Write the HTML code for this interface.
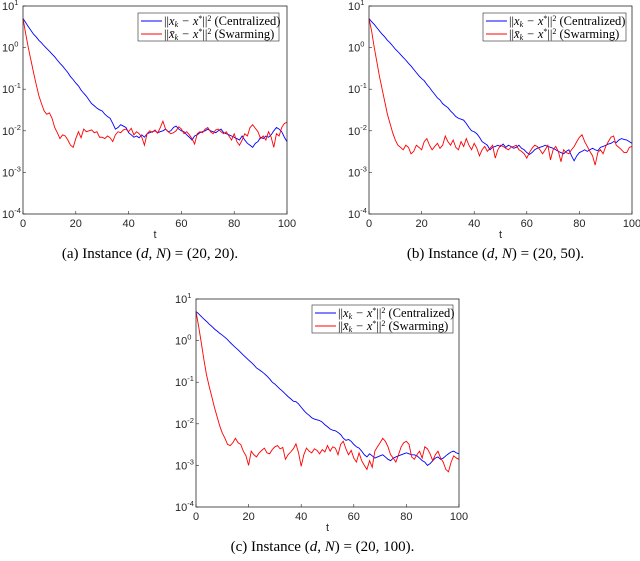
<!DOCTYPE html>
<html><head><meta charset="utf-8"><style>
body{margin:0;background:#fff;width:640px;height:561px;overflow:hidden}
svg{display:block}
.tk{font-family:"Liberation Sans",sans-serif;font-size:11px;fill:#262626}
.cap{font-family:"Liberation Serif",serif;font-size:15px;fill:#000}
.lg{font-family:"Liberation Serif",serif;font-size:12.5px;fill:#000}
</style></head><body>
<svg id="fig" width="640" height="561" viewBox="0 0 640 561"></svg>
<script>
const tTicks=[0,20,40,60,80,100];
const yExps=[1,0,-1,-2,-3,-4];
const blueA=[5,4,3.2,2.6,2.1,1.8,1.5,1.3,1.1,0.95,0.82,0.7,0.6,0.5,0.42,0.36,0.3,0.25,0.2,0.17,0.14,0.12,0.095,0.08,0.068,0.055,0.045,0.04,0.035,0.032,0.03,0.025,0.022,0.02,0.015,0.011,0.012,0.014,0.013,0.012,0.009,0.008,0.007,0.0075,0.0068,0.008,0.007,0.0085,0.009,0.0095,0.01,0.009,0.0095,0.01,0.011,0.0095,0.01,0.012,0.013,0.011,0.01,0.0095,0.008,0.007,0.006,0.0075,0.008,0.009,0.0095,0.01,0.011,0.01,0.0095,0.009,0.01,0.011,0.009,0.0085,0.008,0.0075,0.007,0.0065,0.006,0.0075,0.006,0.005,0.0045,0.004,0.005,0.0055,0.007,0.0065,0.0075,0.007,0.008,0.01,0.012,0.011,0.0095,0.007,0.0055];
const redA=[5,2.2,1.0,0.5,0.25,0.13,0.07,0.045,0.03,0.025,0.027,0.02,0.012,0.009,0.0065,0.008,0.0075,0.006,0.0045,0.004,0.0065,0.0095,0.0068,0.011,0.0095,0.01,0.0105,0.009,0.0095,0.007,0.007,0.0065,0.0075,0.0068,0.0055,0.008,0.0095,0.009,0.0105,0.011,0.0095,0.0115,0.008,0.0095,0.0085,0.007,0.0045,0.0085,0.01,0.0092,0.0105,0.0088,0.012,0.017,0.011,0.0095,0.0085,0.009,0.01,0.0125,0.011,0.0085,0.0095,0.008,0.0065,0.0048,0.0085,0.0095,0.009,0.011,0.012,0.0095,0.0085,0.0105,0.011,0.0095,0.0085,0.0095,0.0075,0.006,0.0085,0.0055,0.0045,0.006,0.0085,0.0075,0.012,0.014,0.0115,0.0095,0.0065,0.0075,0.006,0.0095,0.007,0.004,0.0085,0.0075,0.012,0.015,0.016];
const blueB=[5,4.2,3.6,3.0,2.5,2.1,1.8,1.5,1.3,1.1,0.92,0.8,0.68,0.58,0.5,0.42,0.36,0.3,0.25,0.21,0.18,0.16,0.13,0.11,0.09,0.075,0.062,0.055,0.045,0.04,0.036,0.03,0.026,0.022,0.02,0.019,0.018,0.015,0.012,0.01,0.0095,0.0085,0.007,0.0055,0.005,0.0045,0.0035,0.004,0.0042,0.0045,0.0042,0.0048,0.004,0.0045,0.0042,0.0038,0.004,0.0045,0.0038,0.0035,0.003,0.0027,0.003,0.0035,0.0038,0.004,0.0042,0.0045,0.0042,0.004,0.0038,0.0035,0.0032,0.003,0.0028,0.0032,0.0035,0.0025,0.0019,0.0025,0.003,0.0032,0.0035,0.0032,0.0035,0.0038,0.0035,0.0033,0.004,0.0042,0.0045,0.0048,0.005,0.0055,0.0052,0.006,0.0065,0.0062,0.006,0.0055,0.005];
const redB=[5,2.5,1.0,0.45,0.2,0.1,0.05,0.025,0.015,0.009,0.006,0.0045,0.004,0.0035,0.0045,0.004,0.0028,0.0032,0.0045,0.004,0.0035,0.0055,0.0065,0.0045,0.0035,0.0042,0.005,0.0038,0.0045,0.0075,0.0055,0.0045,0.006,0.004,0.0035,0.0055,0.0042,0.0065,0.0045,0.0035,0.005,0.0038,0.0025,0.0035,0.0042,0.0032,0.0038,0.0045,0.0022,0.0035,0.0045,0.0042,0.0038,0.0035,0.004,0.0042,0.0045,0.0035,0.0032,0.0028,0.0022,0.003,0.0038,0.0045,0.0042,0.0035,0.0028,0.0035,0.0045,0.002,0.0035,0.0042,0.0032,0.0018,0.0035,0.003,0.0028,0.0035,0.0042,0.0055,0.007,0.008,0.0055,0.0042,0.0032,0.0025,0.0015,0.003,0.0035,0.0028,0.0042,0.0055,0.007,0.0075,0.0045,0.004,0.0035,0.003,0.003,0.004,0.0042];
const blueC=[5,4.4,3.8,3.3,2.9,2.5,2.2,1.9,1.7,1.5,1.35,1.2,1.05,0.9,0.78,0.68,0.6,0.52,0.45,0.39,0.34,0.3,0.26,0.22,0.2,0.18,0.16,0.14,0.12,0.1,0.09,0.078,0.068,0.06,0.052,0.045,0.04,0.035,0.034,0.03,0.025,0.021,0.018,0.016,0.014,0.013,0.0125,0.012,0.011,0.0095,0.0085,0.0075,0.007,0.0068,0.0062,0.0055,0.0045,0.004,0.0042,0.0038,0.0032,0.0028,0.0026,0.0022,0.0018,0.0016,0.0019,0.0017,0.0015,0.0016,0.0017,0.0018,0.0016,0.0014,0.0013,0.0015,0.0016,0.0017,0.0018,0.0019,0.002,0.0019,0.0018,0.0018,0.0017,0.0015,0.0013,0.0012,0.001,0.0011,0.0013,0.0015,0.0016,0.0014,0.0015,0.0017,0.0019,0.0021,0.0022,0.002,0.0019];
const redC=[5,2.2,0.9,0.35,0.15,0.08,0.045,0.025,0.015,0.009,0.006,0.0045,0.0032,0.003,0.0035,0.0045,0.0035,0.0032,0.0022,0.0017,0.001,0.0022,0.0018,0.0016,0.002,0.0023,0.0026,0.002,0.0019,0.0024,0.0028,0.003,0.0025,0.0027,0.0014,0.0018,0.0021,0.0025,0.0033,0.002,0.00095,0.0018,0.0026,0.0022,0.002,0.0025,0.0023,0.0019,0.0024,0.0021,0.003,0.0022,0.0028,0.0026,0.0018,0.0032,0.0038,0.0025,0.0018,0.0023,0.0015,0.0012,0.002,0.0013,0.001,0.0008,0.0013,0.0009,0.0022,0.0028,0.0035,0.0045,0.0038,0.0028,0.0018,0.0015,0.0012,0.0018,0.0028,0.0035,0.0038,0.0032,0.0016,0.0014,0.0018,0.0022,0.0015,0.0028,0.0025,0.0019,0.0013,0.0018,0.0022,0.0015,0.0012,0.0008,0.0007,0.0012,0.0017,0.0015,0.0014];
const panels=[
 {id:'a',L:23,R:287,T:6,B:214,blue:blueA,red:redA,cap:'(a)  Instance (',capN:'(20, 20).',lg:[138,13,141]},
 {id:'b',L:369,R:632,T:6,B:214,blue:blueB,red:redB,cap:'(b)  Instance (',capN:'(20, 50).',lg:[483,13,143]},
 {id:'c',L:196,R:459,T:299,B:507,blue:blueC,red:redC,cap:'(c)  Instance (',capN:'(20, 100).',lg:[312,305,141]}
];
const NS='http://www.w3.org/2000/svg';
const svg=document.getElementById('fig');
function mk(tag,attrs,parent,text){const e=document.createElementNS(NS,tag);for(const k in attrs)e.setAttribute(k,attrs[k]);if(text!==undefined)e.textContent=text;(parent||svg).appendChild(e);return e;}
panels.forEach(p=>{
 const g=mk('g',{});
 
 
 const xs=t=>p.L+(t-0)/100*(p.R-p.L);
 const ys=v=>p.T+(1-Math.log10(v))/5*(p.B-p.T);
 tTicks.forEach(t=>{
  const x=xs(t);
  const tl=mk('line',{x1:x,x2:x,y1:p.B,y2:p.B-3,stroke:'#262626','stroke-width':0.6},g);
  
  
  const tx=mk('text',{x:x,y:p.B+13,'text-anchor':'middle',class:'tk'},g,String(t));
  
  
 });
 yExps.forEach(e=>{
  const y=ys(Math.pow(10,e));
  const tl=mk('line',{x1:p.L,x2:p.L+3,y1:y,y2:y,stroke:'#262626','stroke-width':0.6},g);
  
  
  const tx=mk('text',{x:p.L-21,y:y+4,class:'tk'},g);
  
  
  mk('tspan',{},tx,'10');
  mk('tspan',{dy:-5,'font-size':'7.5px'},tx,String(e));
 });
 const xl=mk('text',{x:(p.L+p.R)/2,y:p.B+24,'text-anchor':'middle',class:'tk'},g,'t');
 
 
 [['blue',p.blue,'#0000ff'],['red',p.red,'#ff0000']].forEach(([nm,arr,col])=>{
  const d=arr.map((v,i)=>(i?'L':'M')+xs(i).toFixed(2)+' '+ys(v).toFixed(2)).join(' ');
  const pa=mk('path',{d:d,fill:'none',stroke:col,'stroke-width':0.9},g);
  
  
 });
 const box=mk('rect',{x:p.L,y:p.T,width:p.R-p.L,height:p.B-p.T,fill:'none',stroke:'#262626','stroke-width':0.8},g);
 
 
 const [lx,ly,lw]=p.lg;
 const lg=mk('g',{},g);
 
 
 mk('rect',{x:lx,y:ly,width:lw,height:28,fill:'#fff',stroke:'#262626','stroke-width':0.6},lg);
 [['#0000ff','x','(Centralized)',0],['#ff0000','x̄','(Swarming)',13]].forEach(([c,sym,lab,o])=>{
  const le=mk('g',{},lg);
  
  
  mk('line',{x1:lx+3,x2:lx+24,y1:ly+8+o,y2:ly+8+o,stroke:c,'stroke-width':0.9},le);
  const t=mk('text',{x:lx+26,y:ly+12+o,class:'lg'},le);
  mk('tspan',{},t,'||');
  mk('tspan',{'font-style':'italic'},t,sym);
  mk('tspan',{dy:2,'font-size':'8px','font-style':'italic'},t,'k');
  mk('tspan',{dy:-2,'font-style':'italic'},t,' − x');
  mk('tspan',{dy:-4,'font-size':'8px'},t,'*');
  mk('tspan',{dy:4},t,'||');
  mk('tspan',{dy:-4,'font-size':'8px'},t,'2');
  mk('tspan',{dy:4},t,' '+lab);
 });
 const cap=mk('text',{x:(p.L+p.R)/2-5,y:p.B+44,'text-anchor':'middle',class:'cap'},g);
 
 
 mk('tspan',{},cap,p.cap);
 mk('tspan',{'font-style':'italic'},cap,'d');
 mk('tspan',{},cap,', ');
 mk('tspan',{'font-style':'italic'},cap,'N');
 mk('tspan',{},cap,') = '+p.capN);
});
</script>
</body></html>
